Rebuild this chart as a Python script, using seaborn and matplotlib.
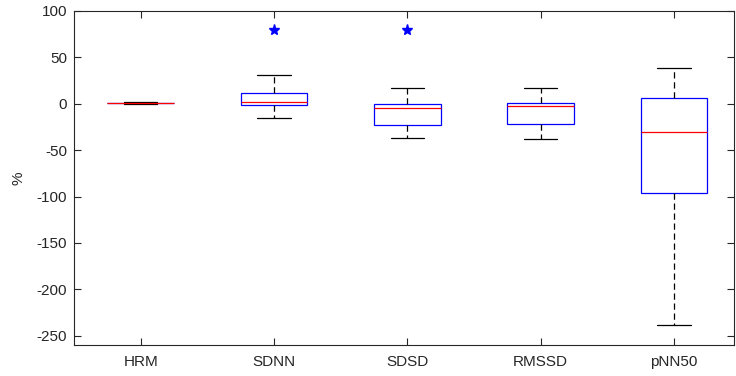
import numpy as np
import pandas as pd
import matplotlib
matplotlib.use("Agg")
import matplotlib.pyplot as plt
import seaborn as sns

# ---- data ----
categories = ["HRM", "SDNN", "SDSD", "RMSSD", "pNN50"]
hrm = [0.0, 0.3, 0.5, 0.8, 1.5]
sdnn = [-15.6, -0.8, -0.8, 2.2, 2.2, 12.0, 12.0, 31.0, 80.0]
sdsd = [-37.3, -22.8, -22.8, -4.3, -4.3, 0.0, 0.0, 17.0, 80.0]
rmssd = [-38.0, -21.3, -2.9, 1.0, 16.6]
pnn50 = [-238.4, -95.8, -30.8, 6.5, 38.2]
yticks = [100, 50, 0, -50, -100, -150, -200, -250]
ylabel = "%"

series = [hrm, sdnn, sdsd, rmssd, pnn50]
df = pd.DataFrame({
    "metric": [c for c, s in zip(categories, series) for _ in s],
    "value": [v for s in series for v in s],
})

sns.set_theme(style="white")
plt.rcParams["font.family"] = ["Liberation Sans", "DejaVu Sans"]
plt.rcParams["font.size"] = 11
plt.rcParams["axes.unicode_minus"] = False

fig = plt.figure(figsize=(7.36, 3.76), dpi=100)
ax = fig.add_axes([74 / 736, 1 - 345 / 376, 660 / 736, 334 / 376])

sns.boxplot(
    data=df, x="metric", y="value", order=categories, ax=ax,
    width=0.5, fill=True, linewidth=0.9, whis=1.5,
    boxprops=dict(facecolor="none", edgecolor="blue"),
    medianprops=dict(color="red"),
    whiskerprops=dict(color="black", linestyle=(0, (5, 3))),
    capprops=dict(color="black"),
    flierprops=dict(marker="*", markerfacecolor="blue", markeredgecolor="blue",
                    markersize=8, linestyle="none"),
)

ax.set_xlim(-0.5, 4.45)
ax.set_ylim(-260, 100)
ax.set_yticks(yticks)
ax.set_xlabel("")
ax.set_ylabel(ylabel, color="#262626", fontsize=11, labelpad=8)

for sp in ax.spines.values():
    sp.set_visible(True)
    sp.set_color("#262626")
    sp.set_linewidth(0.8)

ax.tick_params(axis="both", which="both", direction="in", length=4.8, width=0.8,
               top=True, right=True, bottom=True, left=True,
               colors="#262626", labelcolor="#262626", labelsize=11)
ax.tick_params(axis="y", pad=5)
ax.tick_params(axis="x", pad=7)

fig.savefig("out.png", dpi=100)
